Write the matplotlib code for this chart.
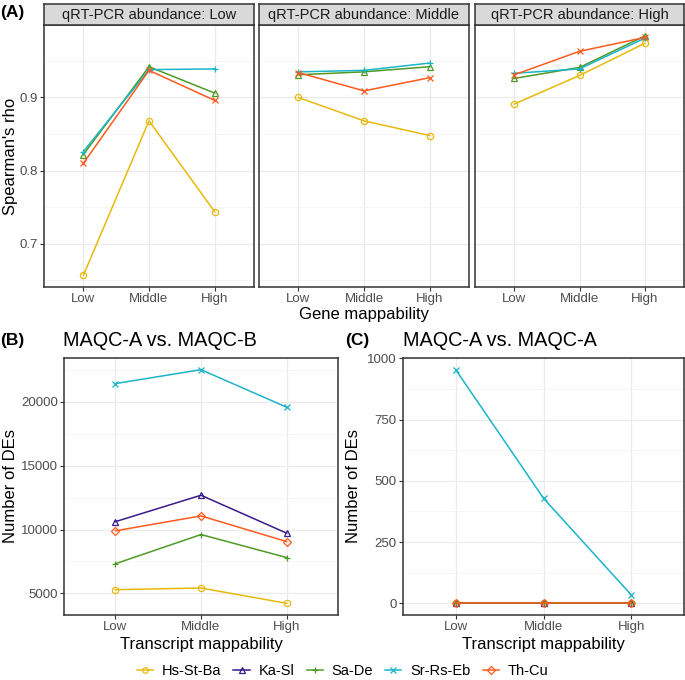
import numpy as np
import matplotlib.pyplot as plt
from matplotlib.ticker import MultipleLocator

plt.rcParams['font.family'] = ['Liberation Sans', 'DejaVu Sans']

levels = ['Low', 'Middle', 'High']
methods = ['Hs-St-Ba', 'Ka-Sl', 'Sa-De', 'Sr-Rs-Eb', 'Th-Cu']
colors = {'Hs-St-Ba': '#E8B90C', 'Ka-Sl': '#3A1A8A', 'Sa-De': '#4F9A26',
          'Sr-Rs-Eb': '#1BB4C8', 'Th-Cu': '#FC5A1E'}

# panel A: Spearman's rho per qRT-PCR abundance group (4 methods)
methods_a = ['Hs-St-Ba', 'Sa-De', 'Sr-Rs-Eb', 'Th-Cu']
rho_low = {'Hs-St-Ba': [0.657, 0.868, 0.744],
           'Sa-De': [0.822, 0.942, 0.906],
           'Sr-Rs-Eb': [0.826, 0.938, 0.939],
           'Th-Cu': [0.810, 0.937, 0.896]}
rho_mid = {'Hs-St-Ba': [0.900, 0.868, 0.848],
           'Sa-De': [0.931, 0.935, 0.942],
           'Sr-Rs-Eb': [0.935, 0.937, 0.947],
           'Th-Cu': [0.934, 0.909, 0.927]}
rho_high = {'Hs-St-Ba': [0.891, 0.930, 0.974],
            'Sa-De': [0.926, 0.941, 0.984],
            'Sr-Rs-Eb': [0.933, 0.939, 0.981],
            'Th-Cu': [0.931, 0.963, 0.982]}

# panel B / C: number of DEs
de_ab = {'Hs-St-Ba': [5290, 5420, 4220],
         'Ka-Sl': [10620, 12690, 9720],
         'Sa-De': [7320, 9610, 7810],
         'Sr-Rs-Eb': [21440, 22530, 19590],
         'Th-Cu': [9900, 11070, 9060]}
de_aa = {'Hs-St-Ba': [0, 0, 0],
         'Ka-Sl': [0, 0, 0],
         'Sa-De': [0, 0, 0],
         'Sr-Rs-Eb': [954, 429, 34],
         'Th-Cu': [0, 0, 0]}

W, H = 685, 680
fig = plt.figure(figsize=(W / 100, H / 100), dpi=100)


def px_axes(x0, y0, x1, y1):
    # pixel box (top-left origin) -> figure axes
    return fig.add_axes([x0 / W, 1 - y1 / H, (x1 - x0) / W, (y1 - y0) / H])


def ftext(x, y, s, **kw):
    return fig.text(x / W, 1 - y / H, s, **kw)


def style(ax, major, minor):
    ax.set_facecolor('white')
    for s in ax.spines.values():
        s.set_color('#333333')
        s.set_linewidth(1.1)
    ax.yaxis.set_major_locator(MultipleLocator(major))
    ax.yaxis.set_minor_locator(MultipleLocator(minor))
    ax.grid(True, which='major', color='#EBEBEB', lw=0.9, zorder=0)
    ax.grid(True, which='minor', axis='y', color='#F3F3F3', lw=0.5, zorder=0)
    ax.set_axisbelow(True)
    ax.tick_params(which='major', colors='#333333', labelcolor='#4D4D4D',
                   labelsize=9.5, length=3, width=0.8, pad=1.5)
    ax.tick_params(which='minor', length=0)
    ax.set_xticks(range(3))
    ax.set_xticklabels(levels)
    ax.set_xlim(-0.6, 2.6)


def draw(ax, data, names, shapes):
    for m in names:
        ax.plot(range(3), data[m], color=colors[m], lw=1.1, marker=shapes[m],
                ms=4.5, mfc='none', mew=0.9, zorder=3)


shapes_a = {'Hs-St-Ba': 'o', 'Sa-De': '^', 'Sr-Rs-Eb': '+', 'Th-Cu': 'x'}
shapes_b = {'Hs-St-Ba': 'o', 'Ka-Sl': '^', 'Sa-De': '+', 'Sr-Rs-Eb': 'x', 'Th-Cu': 'D'}

# ---- panel A
boxes = [(44, 254), (259, 469), (475, 684)]
titles = ['qRT-PCR abundance: Low', 'qRT-PCR abundance: Middle', 'qRT-PCR abundance: High']
for i, (data, (x0, x1), t) in enumerate(zip([rho_low, rho_mid, rho_high], boxes, titles)):
    ax = px_axes(x0, 25, x1, 287)
    style(ax, 0.1, 0.05)
    draw(ax, data, methods_a, shapes_a)
    ax.set_ylim(0.641, 0.999)
    if i > 0:
        ax.tick_params(axis='y', labelleft=False, length=0)
    sx = px_axes(x0, 4, x1, 25)
    sx.set_facecolor('#D9D9D9')
    sx.set_xticks([])
    sx.set_yticks([])
    for s in sx.spines.values():
        s.set_color('#333333')
        s.set_linewidth(1.1)
    sx.text(0.5, 0.47, t, ha='center', va='center', fontsize=10.5, color='#1A1A1A')

ftext(11, 156, "Spearman's rho", rotation=90, ha='center', va='center', fontsize=12)
ftext(364, 314, 'Gene mappability', ha='center', va='center', fontsize=12)
ftext(0, 12, '(A)', fontweight='bold', fontsize=12.5, va='center')

# ---- panel B
axb = px_axes(64, 358, 338, 615)
style(axb, 5000, 2500)
draw(axb, de_ab, methods, shapes_b)
axb.set_ylim(3305, 23445)
ftext(11, 486, 'Number of DEs', rotation=90, ha='center', va='center', fontsize=12)
ftext(201, 644, 'Transcript mappability', ha='center', va='center', fontsize=12)
ftext(0, 340, '(B)', fontweight='bold', fontsize=12.5, va='center')
ftext(63, 341, 'MAQC-A vs. MAQC-B', fontsize=14.3, va='center')

# ---- panel C
axc = px_axes(403, 358, 684, 615)
style(axc, 250, 125)
draw(axc, de_aa, methods, shapes_b)
axc.set_ylim(-47.7, 1001.7)
ftext(354, 486, 'Number of DEs', rotation=90, ha='center', va='center', fontsize=12)
ftext(543, 644, 'Transcript mappability', ha='center', va='center', fontsize=12)
ftext(345, 340, '(C)', fontweight='bold', fontsize=12.5, va='center')
ftext(403, 341, 'MAQC-A vs. MAQC-A', fontsize=14.3, va='center')

# ---- shared legend
handles = [plt.Line2D([], [], color=colors[m], marker=shapes_b[m], ms=4, mfc='none',
                      mew=0.9, lw=1.1) for m in methods]
fig.legend(handles, methods, loc='center', bbox_to_anchor=(0.5, 1 - 671 / H), ncol=5,
           frameon=False, fontsize=10.5, handlelength=1.1, columnspacing=0.85,
           handletextpad=0.6, borderpad=0, borderaxespad=0)

fig.savefig('out.png', dpi=100)
